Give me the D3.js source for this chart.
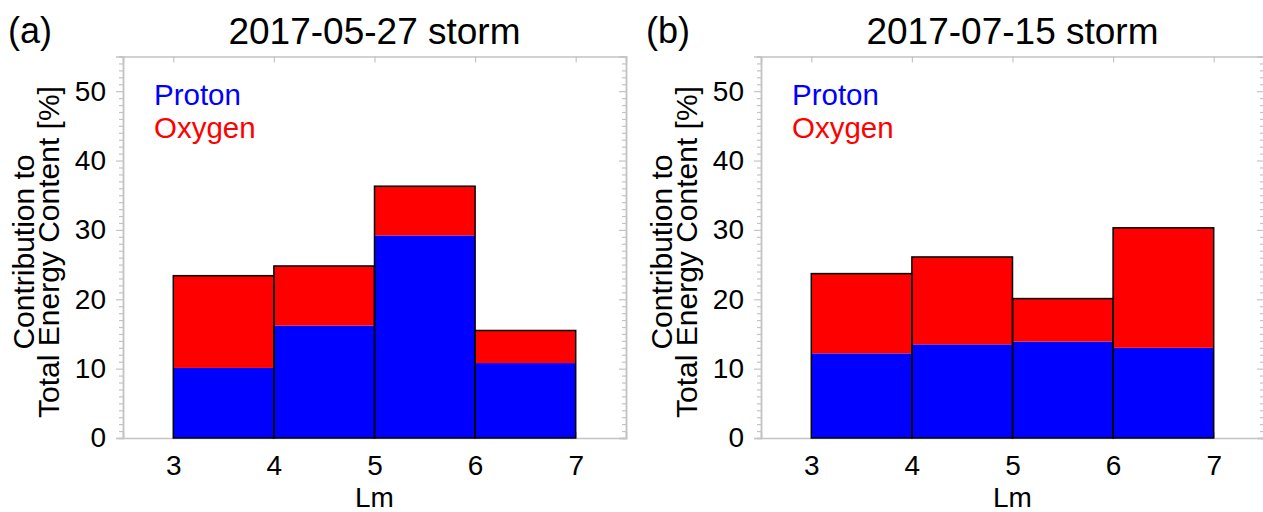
<!DOCTYPE html>
<html>
<head>
<meta charset="utf-8">
<script src="https://cdn.jsdelivr.net/npm/d3@7"></script>
<style>
  html, body { margin: 0; padding: 0; background: #fff; }
  svg { display: block; }
  text { font-family: "Liberation Sans", Arial, Helvetica, sans-serif; fill: #000; }
</style>
</head>
<body>
<svg id="chart" width="1263" height="512"></svg>
<script>
// ---- data ----
const binEdges = [3, 4, 5, 6, 7];
const xTickLabels = [3, 4, 5, 6, 7];
const yTickLabels = [0, 10, 20, 30, 40, 50];
const panelLetters = ["(a)", "(b)"];
const panelTitles = ["2017-05-27 storm", "2017-07-15 storm"];
const seriesNames = ["Proton", "Oxygen"];
// contribution [%] per Lm bin (3-4, 4-5, 5-6, 6-7)
const protonA = [10.1, 16.2, 29.2, 10.8];
const oxygenA = [13.3, 8.6, 7.1, 4.7];
const protonB = [12.2, 13.5, 13.9, 13.0];
const oxygenB = [11.5, 12.6, 6.2, 17.3];

const panels = [
  { letter: panelLetters[0], title: panelTitles[0], proton: protonA, oxygen: oxygenA },
  { letter: panelLetters[1], title: panelTitles[1], proton: protonB, oxygen: oxygenB }
];

// ---- layout ----
const svg = d3.select("#chart");
const W = 503, H = 381.5, topY = 56.5;
const lefts = [123, 761];
const colors = { Proton: "#0000ff", Oxygen: "#ff0000" };
const frameColor = "#c4c4c4";

const x = d3.scaleLinear().domain([2.5, 7.5]).range([0, W]);
const y = d3.scaleLinear().domain([0, 55]).range([H, 0]);

panels.forEach((p, i) => {
  const g = svg.append("g").attr("transform", `translate(${lefts[i]},${topY})`);

  // bars
  const bins = p.proton.map((v, k) => ({ x0: binEdges[k], x1: binEdges[k + 1], proton: v, oxygen: p.oxygen[k] }));
  const bars = g.append("g");
  bars.selectAll("rect.prot").data(bins).join("rect")
    .attr("x", d => x(d.x0)).attr("width", d => x(d.x1) - x(d.x0))
    .attr("y", d => y(d.proton)).attr("height", d => y(0) - y(d.proton))
    .attr("fill", colors.Proton);
  bars.selectAll("rect.oxy").data(bins).join("rect")
    .attr("x", d => x(d.x0)).attr("width", d => x(d.x1) - x(d.x0))
    .attr("y", d => y(d.proton + d.oxygen)).attr("height", d => y(d.proton) - y(d.proton + d.oxygen))
    .attr("fill", colors.Oxygen);
  bars.selectAll("rect.outline").data(bins).join("rect")
    .attr("x", d => x(d.x0)).attr("width", d => x(d.x1) - x(d.x0))
    .attr("y", d => y(d.proton + d.oxygen)).attr("height", d => y(0) - y(d.proton + d.oxygen))
    .attr("fill", "none").attr("stroke", "#000").attr("stroke-width", 1.5);

  // frame axes
  const styleAxis = sel => {
    sel.selectAll(".domain").attr("stroke", frameColor).attr("stroke-width", 1.5);
    sel.selectAll(".tick line").attr("stroke", frameColor).attr("stroke-width", 1.2);
  };
  const minorY = d3.range(0, 56, 1).filter(v => v % 10 !== 0);
  const fontFam = '"Liberation Sans", Arial, sans-serif';

  // left
  g.append("g").call(d3.axisLeft(y).tickValues(minorY).tickSize(4).tickFormat("")).call(styleAxis);
  g.append("g").call(d3.axisLeft(y).tickValues(yTickLabels).tickSize(7).tickPadding(10).tickFormat(d3.format("d")))
    .call(styleAxis)
    .call(s => s.selectAll("text").attr("font-size", 28).attr("fill", "#000").attr("font-family", fontFam));
  // right
  g.append("g").attr("transform", `translate(${W},0)`)
    .call(d3.axisRight(y).tickValues(minorY).tickSize(-4).tickFormat("")).call(styleAxis);
  g.append("g").attr("transform", `translate(${W},0)`)
    .call(d3.axisRight(y).tickValues(yTickLabels).tickSize(-7).tickFormat("")).call(styleAxis);
  // top
  g.append("g").call(d3.axisBottom(x).tickValues(xTickLabels).tickSize(6).tickFormat("")).call(styleAxis);
  // bottom
  g.append("g").attr("transform", `translate(0,${H})`)
    .call(d3.axisBottom(x).tickValues(xTickLabels).tickSize(-6).tickPadding(17).tickFormat(d3.format("d")))
    .call(styleAxis)
    .call(s => s.selectAll("text").attr("font-size", 28).attr("fill", "#000").attr("font-family", fontFam));
  // bring bars above the frame
  bars.raise();

  // titles
  g.append("text").attr("x", W / 2).attr("y", 44 - topY).attr("text-anchor", "middle")
    .attr("font-size", 37).text(p.title);
  g.append("text").attr("x", -115).attr("y", 43 - topY).attr("font-size", 36).text(p.letter);

  // x label
  g.append("text").attr("x", W / 2).attr("y", 507 - topY).attr("text-anchor", "middle")
    .attr("font-size", 28).text("Lm");

  // y label (two lines)
  const yl = g.append("text").attr("transform", `translate(0,${252 - topY}) rotate(-90)`)
    .attr("text-anchor", "middle").attr("font-size", 30);
  yl.append("tspan").attr("x", 0).attr("y", 34 - 123).text("Contribution to");
  yl.append("tspan").attr("x", 0).attr("y", 59 - 123).text("Total Energy Content [%]");

  // legend
  seriesNames.forEach((n, k) => {
    g.append("text").attr("x", 31).attr("y", 105 - topY + k * 33)
      .attr("font-size", 29.5).style("fill", colors[n]).text(n);
  });
});
</script>
</body>
</html>
